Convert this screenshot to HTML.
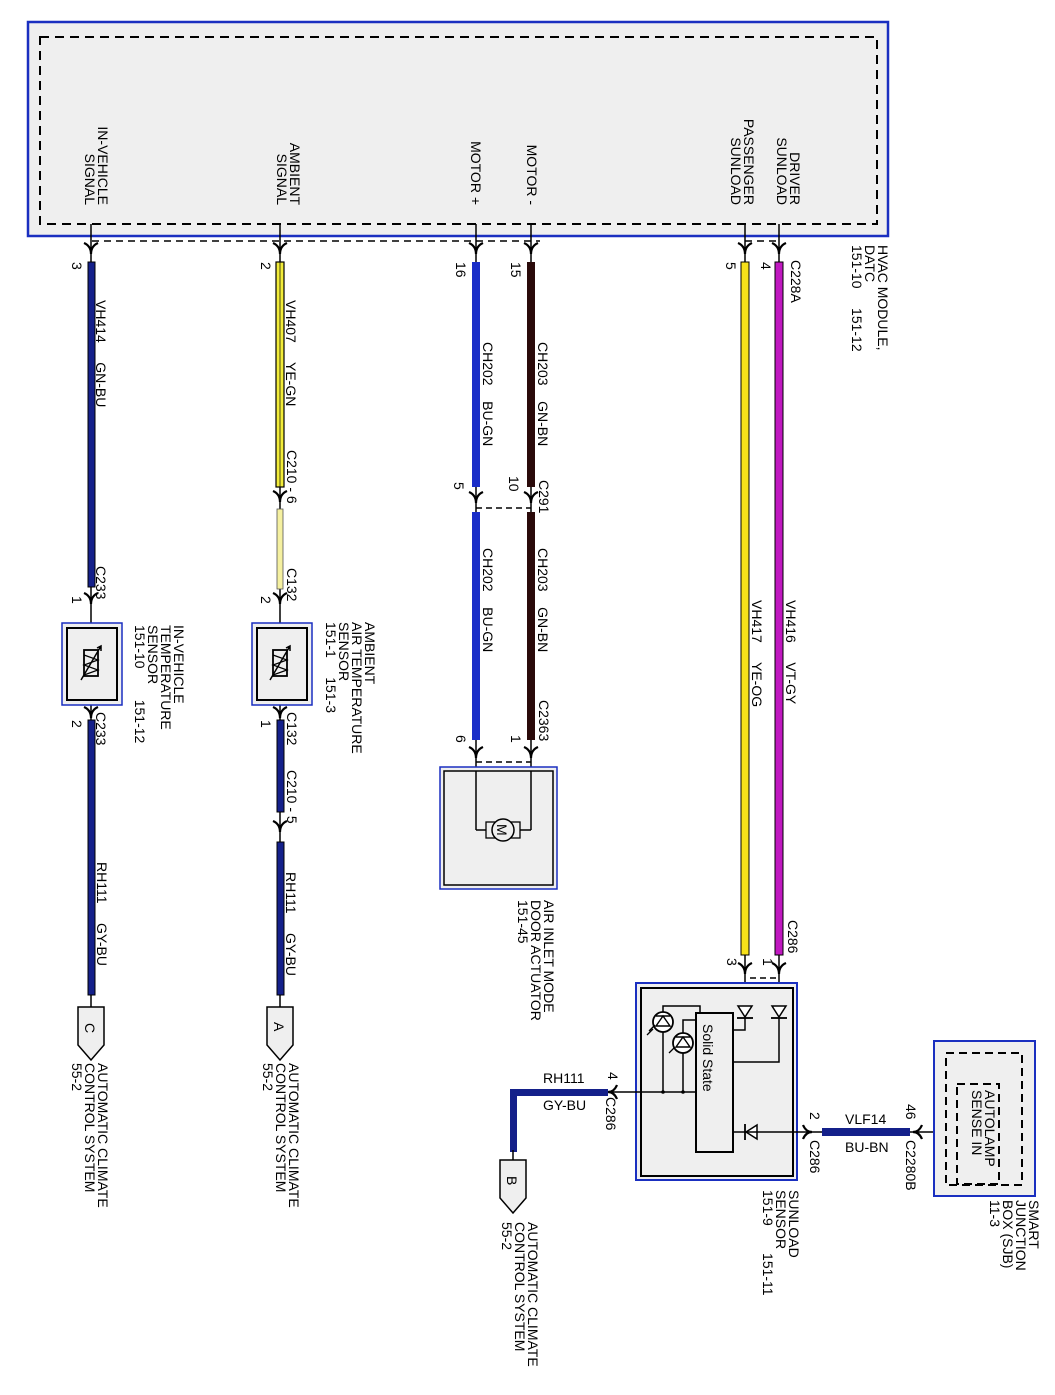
<!DOCTYPE html>
<html><head><meta charset="utf-8"><style>
html,body{margin:0;padding:0;background:#fff;}
svg{display:block;}
text{font-family:"Liberation Sans",sans-serif;font-size:14px;fill:#000;white-space:pre;}
</style></head><body>
<svg width="1055" height="1395" viewBox="0 0 1055 1395" xmlns="http://www.w3.org/2000/svg" xml:space="preserve">
<defs>
<g id="chev"><path d="M-7,-5 Q0,-2 0,6 Q0,-2 7,-5" fill="none" stroke="#000" stroke-width="2.2"/></g>
</defs>
<rect x="28" y="22" width="860" height="214" fill="#efefef" stroke="#1a2fc0" stroke-width="2.5"/>
<rect x="40" y="37" width="837" height="187" fill="none" stroke="#000" stroke-width="2" stroke-dasharray="9,6"/>
<line x1="92" y1="241" x2="540" y2="241" stroke="#000" stroke-width="1.5" stroke-dasharray="7,5"/>
<line x1="745" y1="241" x2="780" y2="241" stroke="#000" stroke-width="1.5" stroke-dasharray="7,5"/>

<text transform="translate(98,205) rotate(90)" text-anchor="end">IN-VEHICLE</text>
<text transform="translate(85,205) rotate(90)" text-anchor="end">SIGNAL</text>
<text transform="translate(290,205) rotate(90)" text-anchor="end">AMBIENT</text>
<text transform="translate(277,205) rotate(90)" text-anchor="end">SIGNAL</text>
<text transform="translate(471,205) rotate(90)" text-anchor="end">MOTOR +</text>
<text transform="translate(527,205) rotate(90)" text-anchor="end">MOTOR -</text>
<text transform="translate(790,205) rotate(90)" text-anchor="end">DRIVER</text>
<text transform="translate(777,205) rotate(90)" text-anchor="end">SUNLOAD</text>
<text transform="translate(744,205) rotate(90)" text-anchor="end">PASSENGER</text>
<text transform="translate(731,205) rotate(90)" text-anchor="end">SUNLOAD</text>
<text transform="translate(878,245) rotate(90)">HVAC MODULE,</text>
<text transform="translate(865,245) rotate(90)">DATC</text>
<text transform="translate(852,245) rotate(90)">151-10     151-12</text>
<text transform="translate(791,260) rotate(90)">C228A</text>

<g stroke="#000" stroke-width="1.5">
<line x1="91" y1="224" x2="91" y2="262"/><line x1="280" y1="224" x2="280" y2="262"/>
<line x1="476" y1="224" x2="476" y2="262"/><line x1="531" y1="224" x2="531" y2="262"/>
<line x1="745" y1="224" x2="745" y2="262"/><line x1="779" y1="224" x2="779" y2="262"/>
</g>
<use href="#chev" x="91" y="248"/><use href="#chev" x="280" y="248"/>
<use href="#chev" x="476" y="248"/><use href="#chev" x="531" y="248"/>
<use href="#chev" x="745" y="248"/><use href="#chev" x="779" y="248"/>

<text transform="translate(72,262) rotate(90)">3</text>
<text transform="translate(261,262) rotate(90)">2</text>
<text transform="translate(456,262) rotate(90)">16</text>
<text transform="translate(511,262) rotate(90)">15</text>
<text transform="translate(726,262) rotate(90)">5</text>
<text transform="translate(761,262) rotate(90)">4</text>

<!-- IN-VEHICLE -->
<rect x="88" y="262" width="7" height="325" fill="#14208a" stroke="#000" stroke-width="1"/>
<line x1="91" y1="587" x2="91" y2="720" stroke="#000" stroke-width="1.5"/>
<use href="#chev" x="91" y="598"/>
<text transform="translate(96,300) rotate(90)">VH414     GN-BU</text>
<text transform="translate(96,566) rotate(90)">C233</text>
<text transform="translate(72,596) rotate(90)">1</text>
<rect x="62" y="623" width="60" height="82" fill="#efefef" stroke="#1a2fc0" stroke-width="1.5"/>
<rect x="67" y="628" width="50" height="72" fill="none" stroke="#000" stroke-width="2"/>
<rect x="84" y="650" width="14" height="26" fill="#efefef" stroke="#000" stroke-width="1.8"/>
<path d="M84,655 L98,660 L84,665 L98,670 L84,675" fill="none" stroke="#000" stroke-width="1.2"/>
<path d="M81,680 L101,646 M97,648 L101,646 L101,651" fill="none" stroke="#000" stroke-width="1.5"/>
<use href="#chev" x="91" y="712"/>
<text transform="translate(174,625) rotate(90)">IN-VEHICLE</text>
<text transform="translate(161,625) rotate(90)">TEMPERATURE</text>
<text transform="translate(148,625) rotate(90)">SENSOR</text>
<text transform="translate(135,625) rotate(90)">151-10        151-12</text>
<text transform="translate(72,720) rotate(90)">2</text>
<text transform="translate(96,712) rotate(90)">C233</text>
<rect x="88" y="720" width="7" height="275" fill="#14208a" stroke="#000" stroke-width="1"/>
<line x1="91" y1="995" x2="91" y2="1007" stroke="#000" stroke-width="1.5"/>
<text transform="translate(97,862) rotate(90)">RH111     GY-BU</text>
<path d="M78,1007 L104,1007 L104,1045 L91,1060 L78,1045 Z" fill="#efefef" stroke="#000" stroke-width="1.5"/>
<text transform="translate(85,1023) rotate(90)" font-size="15">C</text>
<text transform="translate(98,1063) rotate(90)">AUTOMATIC CLIMATE</text>
<text transform="translate(85,1063) rotate(90)">CONTROL SYSTEM</text>
<text transform="translate(72,1063) rotate(90)">55-2</text>

<!-- AMBIENT -->
<rect x="276" y="262" width="8" height="225" fill="#f2ec3a" stroke="#000" stroke-width="1.2"/>
<line x1="280" y1="262" x2="280" y2="487" stroke="#000" stroke-width="0.7"/>
<line x1="280" y1="487" x2="280" y2="720" stroke="#000" stroke-width="1.5"/>
<use href="#chev" x="280" y="496"/>
<rect x="277" y="509" width="6" height="80" fill="#f5f0a0" stroke="#555" stroke-width="0.8"/>
<use href="#chev" x="280" y="598"/>
<text transform="translate(286,300) rotate(90)">VH407     YE-GN</text>
<text transform="translate(287,450) rotate(90)">C210 - 6</text>
<text transform="translate(287,568) rotate(90)">C132</text>
<text transform="translate(261,596) rotate(90)">2</text>
<rect x="252" y="623" width="60" height="82" fill="#efefef" stroke="#1a2fc0" stroke-width="1.5"/>
<rect x="257" y="628" width="50" height="72" fill="none" stroke="#000" stroke-width="2"/>
<rect x="273" y="650" width="14" height="26" fill="#efefef" stroke="#000" stroke-width="1.8"/>
<path d="M273,655 L287,660 L273,665 L287,670 L273,675" fill="none" stroke="#000" stroke-width="1.2"/>
<path d="M270,680 L290,646 M286,648 L290,646 L290,651" fill="none" stroke="#000" stroke-width="1.5"/>
<use href="#chev" x="280" y="712"/>
<text transform="translate(365,622) rotate(90)">AMBIENT</text>
<text transform="translate(352,622) rotate(90)">AIR TEMPERATURE</text>
<text transform="translate(339,622) rotate(90)">SENSOR</text>
<text transform="translate(326,622) rotate(90)">151-1     151-3</text>
<text transform="translate(261,720) rotate(90)">1</text>
<text transform="translate(287,712) rotate(90)">C132</text>
<rect x="277" y="720" width="7" height="92" fill="#14208a" stroke="#000" stroke-width="1"/>
<line x1="280" y1="812" x2="280" y2="842" stroke="#000" stroke-width="1.5"/>
<use href="#chev" x="280" y="826"/>
<text transform="translate(287,770) rotate(90)">C210 - 5</text>
<rect x="277" y="842" width="7" height="153" fill="#14208a" stroke="#000" stroke-width="1"/>
<line x1="280" y1="995" x2="280" y2="1007" stroke="#000" stroke-width="1.5"/>
<text transform="translate(286,872) rotate(90)">RH111     GY-BU</text>
<path d="M267,1007 L293,1007 L293,1045 L280,1060 L267,1045 Z" fill="#efefef" stroke="#000" stroke-width="1.5"/>
<text transform="translate(274,1022) rotate(90)" font-size="15">A</text>
<text transform="translate(289,1063) rotate(90)">AUTOMATIC CLIMATE</text>
<text transform="translate(276,1063) rotate(90)">CONTROL SYSTEM</text>
<text transform="translate(263,1063) rotate(90)">55-2</text>

<!-- Motor -->
<rect x="472" y="262" width="8" height="225" fill="#1a2ec8"/>
<rect x="527" y="262" width="8" height="225" fill="#2a0a0a"/>
<line x1="476" y1="487" x2="476" y2="512" stroke="#000" stroke-width="1.5"/>
<line x1="531" y1="487" x2="531" y2="512" stroke="#000" stroke-width="1.5"/>
<use href="#chev" x="476" y="497"/><use href="#chev" x="531" y="497"/>
<line x1="476" y1="508" x2="531" y2="508" stroke="#000" stroke-width="1.5" stroke-dasharray="6,4"/>
<rect x="472" y="512" width="8" height="228" fill="#1a2ec8"/>
<rect x="527" y="512" width="8" height="228" fill="#2a0a0a"/>
<text transform="translate(483,342) rotate(90)">CH202    BU-GN</text>
<text transform="translate(538,342) rotate(90)">CH203    GN-BN</text>
<text transform="translate(539,480) rotate(90)">C291</text>
<text transform="translate(509,476) rotate(90)">10</text>
<text transform="translate(454,482) rotate(90)">5</text>
<text transform="translate(483,548) rotate(90)">CH202    BU-GN</text>
<text transform="translate(538,548) rotate(90)">CH203    GN-BN</text>
<text transform="translate(539,700) rotate(90)">C2363</text>
<text transform="translate(511,735) rotate(90)">1</text>
<text transform="translate(456,735) rotate(90)">6</text>
<line x1="476" y1="740" x2="476" y2="830" stroke="#000" stroke-width="1.5"/>
<line x1="531" y1="740" x2="531" y2="830" stroke="#000" stroke-width="1.5"/>
<use href="#chev" x="476" y="752"/><use href="#chev" x="531" y="752"/>
<line x1="476" y1="762" x2="531" y2="762" stroke="#000" stroke-width="1.5" stroke-dasharray="6,4"/>
<rect x="440" y="767" width="117" height="122" fill="#efefef" stroke="#1a2fc0" stroke-width="1.5"/>
<rect x="444" y="771" width="109" height="114" fill="none" stroke="#000" stroke-width="1.5"/>
<line x1="476" y1="771" x2="476" y2="830" stroke="#000" stroke-width="1.5"/>
<line x1="531" y1="771" x2="531" y2="830" stroke="#000" stroke-width="1.5"/>
<line x1="476" y1="830" x2="486" y2="830" stroke="#000" stroke-width="1.5"/>
<line x1="520" y1="830" x2="531" y2="830" stroke="#000" stroke-width="1.5"/>
<rect x="486" y="822" width="34" height="16" fill="#efefef" stroke="#000" stroke-width="1.3"/>
<circle cx="503" cy="830" r="11" fill="#efefef" stroke="#000" stroke-width="1.5"/>
<text transform="translate(497,824) rotate(90)" font-size="14">M</text>
<text transform="translate(544,900) rotate(90)">AIR INLET MODE</text>
<text transform="translate(531,900) rotate(90)">DOOR ACTUATOR</text>
<text transform="translate(518,900) rotate(90)">151-45</text>

<!-- Sunload wires -->
<rect x="741" y="262" width="8" height="693" fill="#f7e11a" stroke="#000" stroke-width="1"/>
<rect x="775" y="262" width="8" height="693" fill="#c018c0" stroke="#000" stroke-width="1"/>
<text transform="translate(752,600) rotate(90)">VH417     YE-OG</text>
<text transform="translate(786,600) rotate(90)">VH416     VT-GY</text>
<text transform="translate(788,920) rotate(90)">C286</text>
<text transform="translate(727,958) rotate(90)">3</text>
<text transform="translate(763,958) rotate(90)">1</text>
<line x1="745" y1="955" x2="745" y2="1030" stroke="#000" stroke-width="1.5"/>
<line x1="779" y1="955" x2="779" y2="1062" stroke="#000" stroke-width="1.5"/>
<use href="#chev" x="745" y="968"/><use href="#chev" x="779" y="968"/>
<line x1="750" y1="978" x2="779" y2="978" stroke="#000" stroke-width="1.5" stroke-dasharray="6,4"/>

<!-- Sunload sensor -->
<rect x="636" y="983" width="161" height="197" fill="#efefef" stroke="#1a2fc0" stroke-width="2"/>
<rect x="641" y="988" width="152" height="188" fill="none" stroke="#000" stroke-width="2"/>
<rect x="696" y="1013" width="37" height="139" fill="#efefef" stroke="#000" stroke-width="2"/>
<text transform="translate(703,1024) rotate(90)" font-size="14">Solid State</text>
<path d="M738,1006 L752,1006 L745,1017 Z" fill="#fff" stroke="#000" stroke-width="1.5"/>
<line x1="737" y1="1018" x2="753" y2="1018" stroke="#000" stroke-width="1.8"/>
<path d="M772,1006 L786,1006 L779,1017 Z" fill="#fff" stroke="#000" stroke-width="1.5"/>
<line x1="771" y1="1018" x2="787" y2="1018" stroke="#000" stroke-width="1.8"/>
<polyline points="745,1018 745,1030 733,1030" fill="none" stroke="#000" stroke-width="1.5"/>
<polyline points="779,1018 779,1062 733,1062" fill="none" stroke="#000" stroke-width="1.5"/>
<polyline points="663,1012 663,1006 700,1006 700,1013" fill="none" stroke="#000" stroke-width="1.5"/>
<polyline points="683,1033 683,1020 696,1020" fill="none" stroke="#000" stroke-width="1.5"/>
<circle cx="663" cy="1022" r="10" fill="#fff" stroke="#000" stroke-width="1.8"/>
<path d="M656,1026 L670,1026 L663,1016 Z M656,1016 L670,1016" fill="none" stroke="#000" stroke-width="1.4"/>
<circle cx="683" cy="1043" r="10" fill="#fff" stroke="#000" stroke-width="1.8"/>
<path d="M676,1047 L690,1047 L683,1037 Z M676,1037 L690,1037" fill="none" stroke="#000" stroke-width="1.4"/>
<path d="M649,1031 L655,1025 M647,1035 L653,1029 M669,1053 L675,1047" stroke="#000" stroke-width="1.3"/>
<line x1="663" y1="1032" x2="663" y2="1092" stroke="#000" stroke-width="1.5"/>
<line x1="683" y1="1053" x2="683" y2="1092" stroke="#000" stroke-width="1.5"/>
<line x1="612" y1="1092" x2="696" y2="1092" stroke="#000" stroke-width="1.5"/>
<circle cx="663" cy="1092" r="1.8"/><circle cx="683" cy="1092" r="1.8"/>
<path d="M617,1085 Q614,1092 608,1092 Q614,1092 617,1099" fill="none" stroke="#000" stroke-width="2.2"/>
<path d="M757,1125 L757,1139 L746,1132 Z" fill="#fff" stroke="#000" stroke-width="1.5"/>
<line x1="745" y1="1124" x2="745" y2="1140" stroke="#000" stroke-width="1.8"/>
<line x1="733" y1="1132" x2="822" y2="1132" stroke="#000" stroke-width="1.5"/>
<path d="M803,1125 Q806,1132 812,1132 Q806,1132 803,1139" fill="none" stroke="#000" stroke-width="2.2"/>
<text transform="translate(789,1190) rotate(90)">SUNLOAD</text>
<text transform="translate(776,1190) rotate(90)">SENSOR</text>
<text transform="translate(763,1190) rotate(90)">151-9       151-11</text>

<!-- RH111 from sunload -->
<text transform="translate(608,1072) rotate(90)">4</text>
<text transform="translate(606,1097) rotate(90)">C286</text>
<text x="543" y="1083">RH111</text>
<text x="543" y="1110">GY-BU</text>
<rect x="513" y="1089" width="95" height="7" fill="#14208a"/>
<rect x="510" y="1089" width="7" height="63" fill="#14208a"/>
<line x1="513" y1="1150" x2="513" y2="1160" stroke="#000" stroke-width="1.5"/>
<path d="M500,1160 L526,1160 L526,1198 L513,1213 L500,1198 Z" fill="#efefef" stroke="#000" stroke-width="1.5"/>
<text transform="translate(507,1176) rotate(90)" font-size="15">B</text>
<text transform="translate(528,1222) rotate(90)">AUTOMATIC CLIMATE</text>
<text transform="translate(515,1222) rotate(90)">CONTROL SYSTEM</text>
<text transform="translate(502,1222) rotate(90)">55-2</text>

<!-- VLF14 -->
<rect x="822" y="1128" width="88" height="8" fill="#14208a"/>
<text x="845" y="1124">VLF14</text>
<text x="845" y="1152">BU-BN</text>
<text transform="translate(810,1112) rotate(90)">2</text>
<text transform="translate(810,1140) rotate(90)">C286</text>
<text transform="translate(906,1104) rotate(90)">46</text>
<text transform="translate(906,1140) rotate(90)">C2280B</text>
<line x1="910" y1="1132" x2="958" y2="1132" stroke="#000" stroke-width="1.5"/>
<path d="M922,1125 Q919,1132 913,1132 Q919,1132 922,1139" fill="none" stroke="#000" stroke-width="2.2"/>

<!-- SJB -->
<rect x="934" y="1041" width="101" height="155" fill="#efefef" stroke="#1a2fc0" stroke-width="2"/>
<rect x="946" y="1053" width="76" height="132" fill="none" stroke="#000" stroke-width="2" stroke-dasharray="8,5"/>
<rect x="957" y="1084" width="42" height="100" fill="none" stroke="#000" stroke-width="2" stroke-dasharray="8,5"/>
<text transform="translate(985,1090) rotate(90)">AUTOLAMP</text>
<text transform="translate(972,1090) rotate(90)">SENSE IN</text>
<text transform="translate(1029,1200) rotate(90)">SMART</text>
<text transform="translate(1016,1200) rotate(90)">JUNCTION</text>
<text transform="translate(1003,1200) rotate(90)">BOX (SJB)</text>
<text transform="translate(990,1200) rotate(90)">11-3</text>
</svg>
</body></html>
